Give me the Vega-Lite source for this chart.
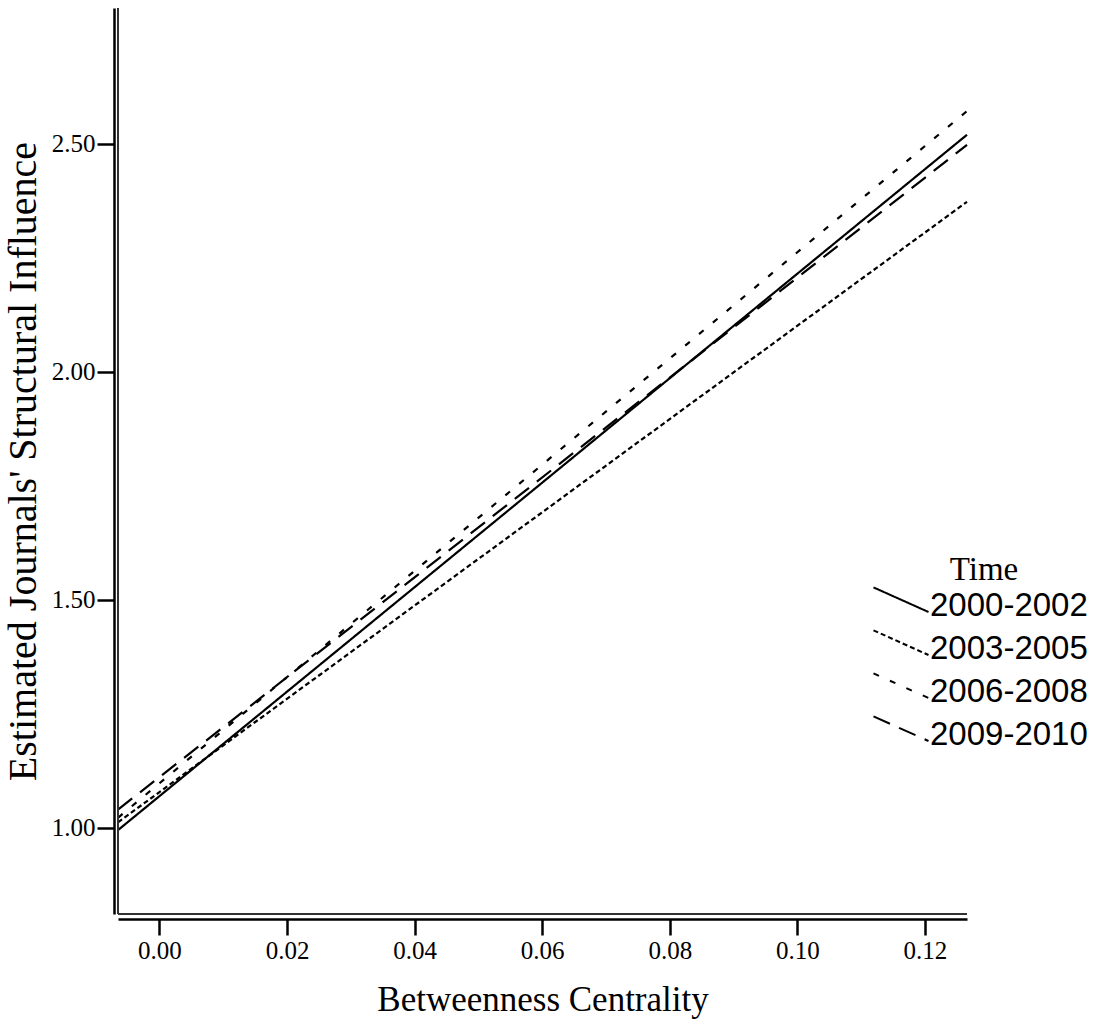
{
  "$schema": "https://vega.github.io/schema/vega-lite/v6.json",
  "width": 849,
  "height": 906,
  "autosize": "none",
  "padding": {"left": 118, "top": 8, "right": 134, "bottom": 110},
  "background": "white",
  "config": {"view": {"stroke": null}},
  "data": {
    "values": [
      {"period": "2000-2002", "x": -0.0065, "y": 0.995},
      {"period": "2000-2002", "x": 0.1266, "y": 2.52},
      {"period": "2003-2005", "x": -0.0065, "y": 1.012},
      {"period": "2003-2005", "x": 0.1266, "y": 2.373},
      {"period": "2006-2008", "x": -0.0065, "y": 1.022},
      {"period": "2006-2008", "x": 0.1266, "y": 2.572},
      {"period": "2009-2010", "x": -0.0065, "y": 1.04},
      {"period": "2009-2010", "x": 0.1266, "y": 2.498}
    ]
  },
  "layer": [
    {
      "mark": {"type": "line", "color": "black", "strokeWidth": 2.2},
      "encoding": {
        "x": {
          "field": "x", "type": "quantitative",
          "scale": {"domain": [-0.0065, 0.1266], "nice": false, "zero": false},
          "axis": {
            "title": "Betweenness Centrality",
            "values": [0, 0.02, 0.04, 0.06, 0.08, 0.1, 0.12],
            "format": ".2f",
            "grid": false,
            "offset": 5,
            "domainColor": "black", "domainWidth": 2.5,
            "tickColor": "black", "tickWidth": 2.5, "tickSize": 16,
            "labelFont": "Liberation Serif", "labelFontSize": 25, "labelColor": "black", "labelPadding": 3,
            "titleFont": "Liberation Serif", "titleFontSize": 35, "titleFontWeight": "normal", "titleColor": "black", "titlePadding": 19
          }
        },
        "y": {
          "field": "y", "type": "quantitative",
          "scale": {"domain": [0.811, 2.798], "nice": false, "zero": false},
          "axis": {
            "title": "Estimated Journals' Structural Influence",
            "values": [1, 1.5, 2, 2.5],
            "format": ".2f",
            "grid": false,
            "offset": 4,
            "domainColor": "black", "domainWidth": 2.5,
            "tickColor": "black", "tickWidth": 2.5, "tickSize": 17,
            "labelFont": "Liberation Serif", "labelFontSize": 25, "labelColor": "black", "labelPadding": 2,
            "titleFont": "Liberation Serif", "titleFontSize": 40, "titleFontWeight": "normal", "titleColor": "black", "titlePadding": 8
          }
        },
        "detail": {"field": "period"},
        "strokeDash": {
          "field": "period", "type": "nominal",
          "scale": {
            "domain": ["2000-2002", "2003-2005", "2006-2008", "2009-2010"],
            "range": [[1, 0], [5, 3], [6, 12], [18, 10]]
          },
          "legend": {
            "title": "Time",
            "orient": "none",
            "legendX": 762,
            "legendY": 546,
            "padding": 0,
            "symbolType": "M-1.375,-0.93L1.375,0.3",
            "symbolSize": 1600,
            "symbolStrokeColor": "black",
            "symbolStrokeWidth": 2,
            "symbolFillColor": "transparent",
            "labelFont": "Liberation Sans", "labelFontSize": 33, "labelColor": "black", "labelOffset": 8,
            "rowPadding": 3,
            "titleFont": "Liberation Serif", "titleFontSize": 33, "titleFontWeight": "normal", "titleColor": "black",
            "titleAnchor": "middle", "titlePadding": -2
          }
        }
      }
    },
    {
      "mark": {"type": "rule", "color": "#333333", "strokeWidth": 1.5},
      "encoding": {"x": {"datum": -0.0065, "type": "quantitative"}}
    },
    {
      "mark": {"type": "rule", "color": "#333333", "strokeWidth": 1.5},
      "encoding": {"y": {"datum": 0.811, "type": "quantitative"}}
    }
  ]
}
